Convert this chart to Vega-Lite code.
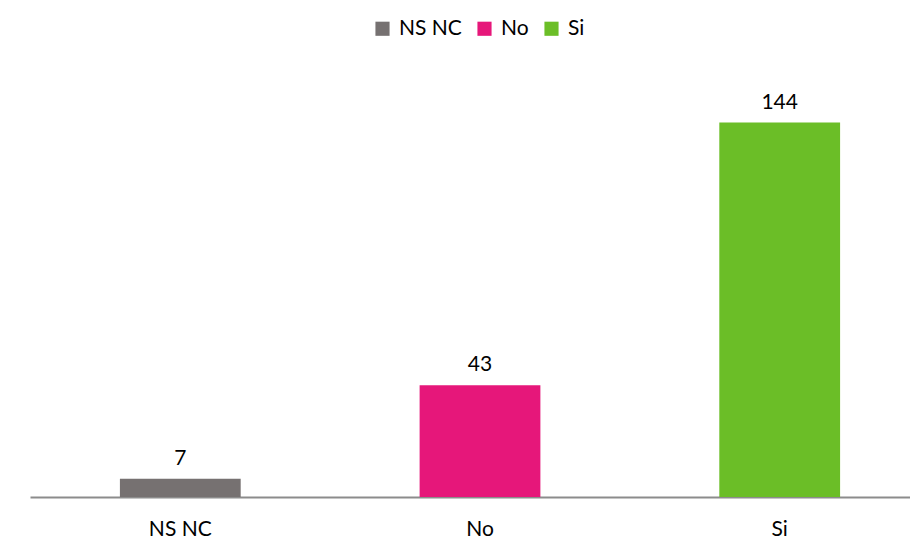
{
  "$schema": "https://vega.github.io/schema/vega-lite/v6.json",
  "autosize": {"type": "none"},
  "width": 900,
  "height": 416,
  "padding": {"left": 30, "top": 81, "right": 0, "bottom": 47},
  "background": "white",
  "config": {"view": {"stroke": null}, "font": "Lato"},
  "data": {"values": [
    {"cat": "NS NC", "value": 7},
    {"cat": "No", "value": 43},
    {"cat": "Si", "value": 144}
  ]},
  "encoding": {
    "x": {"field": "cat", "type": "nominal", "sort": ["NS NC", "No", "Si"],
      "scale": {"paddingInner": 0.597, "paddingOuter": 0.3},
      "axis": {"title": null, "labelAngle": 0, "labelFontSize": 21, "labelColor": "#000000", "labelFont": "Lato", "ticks": false, "domainColor": "#8c8c8c", "domainWidth": 2, "labelPadding": 21}},
    "y": {"field": "value", "type": "quantitative", "scale": {"domain": [0, 160]}, "axis": null}
  },
  "layer": [
    {"mark": {"type": "bar"},
     "encoding": {"color": {"field": "cat", "type": "nominal",
       "scale": {"domain": ["NS NC", "No", "Si"], "range": ["#767171", "#E6177A", "#6BBE27"]},
       "legend": {"title": null, "orient": "none", "direction": "horizontal", "legendX": 342, "legendY": -63, "symbolType": "square", "symbolSize": 200, "symbolStrokeWidth": 0, "labelFontSize": 21, "labelFont": "Lato", "labelColor": "#000000", "columnPadding": 12, "labelOffset": 6}}}},
    {"mark": {"type": "text", "fontSize": 21, "font": "Lato", "color": "#000000", "baseline": "alphabetic", "dy": -14},
     "encoding": {"text": {"field": "value", "type": "quantitative"}}}
  ]
}
